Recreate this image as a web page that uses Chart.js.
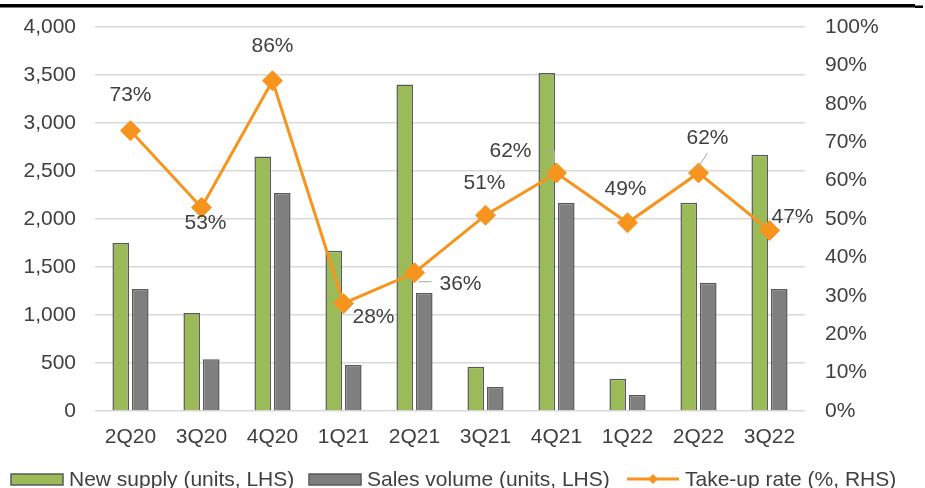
<!DOCTYPE html>
<html>
<head>
<meta charset="utf-8">
<script src="https://cdn.jsdelivr.net/npm/chart.js@4"></script>
<style>
  html, body { margin: 0; padding: 0; background: #fff; }
  #wrap { width: 925px; height: 488px; }
</style>
</head>
<body>
<div id="wrap"><canvas id="supplyChart" width="925" height="488"></canvas></div>
<script>
// Quarterly new supply vs sales, with take-up rate
const quarters = ['2Q20', '3Q20', '4Q20', '1Q21', '2Q21', '3Q21', '4Q21', '1Q22', '2Q22', '3Q22'];
const newSupply = [1750, 1020, 2650, 1670, 3400, 460, 3520, 335, 2170, 2670];
const salesVolume = [1270, 540, 2270, 480, 1230, 250, 2170, 167, 1335, 1270];
const takeUpRate = [73, 53, 86, 28, 36, 51, 62, 49, 62, 47];

// where each rate label sits relative to its point (px)
const labelOffsets = [[0, -35], [4, 16], [0, -35], [30, 14], [46, 11], [-1, -32], [-46, -22], [-2, -34], [9, -35], [23, -13]];
// little leader lines for the labels Excel pushed away
const leaderLines = { 4: [[4, 9], [17, 9]], 6: [[-13, -22], [-2, -22], [-2, -10]], 8: [[9, -20], [-2, -3]] };

const FONT = "'Liberation Sans', Arial, sans-serif";
const TEXT = '#404040';
const GREEN = '#9bbb59';
const GREY = '#7f7f7f';
const EDGE = '#595959';
const ORANGE = '#f7941d';

const topRule = {
  id: 'topRule',
  afterDraw(chart) {
    const ctx = chart.ctx;
    ctx.save();
    ctx.fillStyle = '#000';
    ctx.fillRect(0, 4, 915, 3.5);
    ctx.fillRect(915, 5.5, 8, 2.5);
    ctx.restore();
  }
};

const rateLabels = {
  id: 'rateLabels',
  afterDatasetsDraw(chart) {
    const ctx = chart.ctx;
    const meta = chart.getDatasetMeta(2);
    ctx.save();
    ctx.strokeStyle = '#a6a6a6';
    ctx.lineWidth = 1;
    Object.keys(leaderLines).forEach(i => {
      const p = meta.data[i];
      const pts = leaderLines[i];
      ctx.beginPath();
      ctx.moveTo(p.x + pts[0][0], p.y + pts[0][1]);
      for (let k = 1; k < pts.length; k++) ctx.lineTo(p.x + pts[k][0], p.y + pts[k][1]);
      ctx.stroke();
    });
    ctx.fillStyle = TEXT;
    ctx.font = '21px ' + FONT;
    ctx.textAlign = 'center';
    ctx.textBaseline = 'middle';
    meta.data.forEach((p, i) => {
      ctx.fillText(takeUpRate[i] + '%', p.x + labelOffsets[i][0], p.y + labelOffsets[i][1]);
    });
    ctx.restore();
  }
};

const bottomLegend = {
  id: 'bottomLegend',
  afterDraw(chart) {
    const ctx = chart.ctx;
    const ds = chart.data.datasets;
    const y = 479;
    const xs = [11, 309, 627];
    ctx.save();
    ctx.font = '21px ' + FONT;
    ctx.textBaseline = 'middle';
    ctx.textAlign = 'left';
    ds.forEach((d, i) => {
      const x = xs[i];
      if (d.type === 'line') {
        ctx.strokeStyle = d.borderColor;
        ctx.lineWidth = 3;
        ctx.beginPath();
        ctx.moveTo(x, y);
        ctx.lineTo(x + 52, y);
        ctx.stroke();
        ctx.fillStyle = d.borderColor;
        ctx.beginPath();
        ctx.moveTo(x + 26 - 5, y);
        ctx.lineTo(x + 26, y - 5);
        ctx.lineTo(x + 26 + 5, y);
        ctx.lineTo(x + 26, y + 5);
        ctx.closePath();
        ctx.fill();
      } else {
        ctx.fillStyle = d.backgroundColor;
        ctx.fillRect(x, y - 5, 52, 11);
        ctx.strokeStyle = EDGE;
        ctx.lineWidth = 1.5;
        ctx.strokeRect(x, y - 5, 52, 11);
      }
      ctx.fillStyle = TEXT;
      ctx.fillText(d.label, x + 58, y + 1);
    });
    ctx.restore();
  }
};

// fixed side widths so the plot sits where the layout wants it
function fixWidth(w) {
  return s => { s.width = w; s.paddingTop = 0; s.paddingBottom = 0; };
}

new Chart(document.getElementById('supplyChart'), {
  type: 'bar',
  data: {
    labels: quarters,
    datasets: [{
      label: 'New supply (units, LHS)',
      data: newSupply,
      backgroundColor: GREEN,
      borderColor: EDGE,
      borderWidth: 1.5,
      yAxisID: 'y',
      order: 1,
      barPercentage: 0.85,
      categoryPercentage: 0.55
    }, {
      label: 'Sales volume (units, LHS)',
      data: salesVolume,
      backgroundColor: GREY,
      borderColor: EDGE,
      borderWidth: 1.5,
      yAxisID: 'y',
      order: 1,
      barPercentage: 0.85,
      categoryPercentage: 0.55
    }, {
      type: 'line',
      label: 'Take-up rate (%, RHS)',
      data: takeUpRate,
      borderColor: ORANGE,
      backgroundColor: ORANGE,
      borderWidth: 3,
      pointStyle: 'rectRot',
      pointRadius: 10,
      pointBorderWidth: 1,
      pointBackgroundColor: ORANGE,
      pointBorderColor: ORANGE,
      tension: 0,
      yAxisID: 'y1',
      order: 0
    }]
  },
  options: {
    responsive: false,
    animation: false,
    devicePixelRatio: 1,
    layout: { padding: { top: 27, left: 0, right: 0, bottom: 0 } },
    plugins: {
      legend: { display: false },
      tooltip: { enabled: false }
    },
    scales: {
      x: {
        grid: { display: false, drawTicks: false },
        border: { display: false },
        ticks: { color: TEXT, font: { family: FONT, size: 21 }, padding: 14, maxRotation: 0 },
        afterFit(s) { s.height = 77; }
      },
      y: {
        position: 'left',
        min: 0,
        max: 4000,
        ticks: {
          stepSize: 500,
          color: TEXT,
          padding: 19,
          font: { family: FONT, size: 21 },
          callback: v => v.toLocaleString('en-US')
        },
        grid: { color: '#d9d9d9', lineWidth: 1.5, drawTicks: false },
        border: { display: false },
        afterFit: fixWidth(95)
      },
      y1: {
        position: 'right',
        min: 0,
        max: 100,
        ticks: {
          stepSize: 10,
          color: TEXT,
          padding: 20,
          font: { family: FONT, size: 21 },
          callback: v => v + '%'
        },
        grid: { display: false, drawTicks: false },
        border: { display: false },
        afterFit: fixWidth(120)
      }
    }
  },
  plugins: [topRule, rateLabels, bottomLegend]
});
</script>
</body>
</html>
